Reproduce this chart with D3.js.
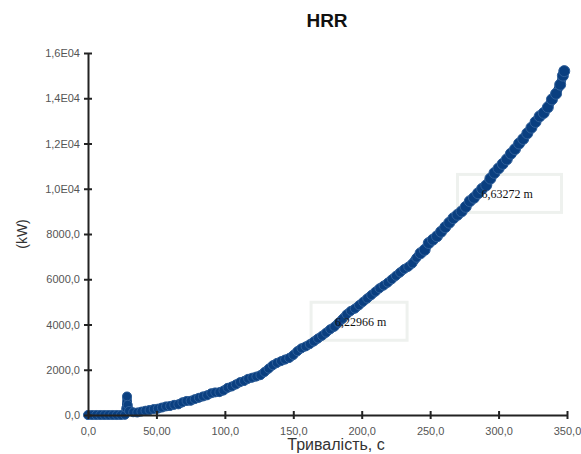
<!DOCTYPE html>
<html>
<head>
<meta charset="utf-8">
<script src="https://cdn.jsdelivr.net/npm/d3@7"></script>
<style>
  body { margin: 0; background: #fff; }
  text { font-family: "Liberation Sans", Arial, sans-serif; }
</style>
</head>
<body>
<div id="chart"></div>
<script>
// time (s) and heat release rate (kW)
var times = [0,3,6,9,12,15,18,21,24,27,28,28.5,29,30,33,36,39,42,45,48,51,54,57,60,63,66,69,72,75,78,81,84,87,90,93,96,99,
  102,105,108,111,114,117,120,123,126,129,132,135,138,141,144,147,150,153,156,159,162,165,168,171,174,177,180,183,186,189,192,195,198,
  201,204,207,210,213,216,219,222,225,228,231,234,237,240,243,246,249,252,255,258,261,264,267,270,273,276,279,282,285,288,291,294,297,
  300,303,306,309,312,315,318,321,324,327,330,333,336,339,342,345,347,348];
var hrr = [0,0,0,0,0,0,0,0,0,10,300,820,450,180,120,110,150,190,220,260,280,330,380,400,450,470,560,620,630,700,760,820,870,960,1000,1010,1080,
  1200,1260,1350,1450,1500,1600,1650,1700,1760,1900,2050,2200,2300,2380,2450,2520,2650,2820,2950,3030,3130,3250,3380,3500,3640,3790,3900,4080,4250,4450,4600,4700,4850,
  5000,5150,5300,5450,5600,5720,5850,6000,6150,6300,6450,6550,6700,6950,7150,7300,7600,7750,7900,8100,8300,8500,8700,8850,9000,9200,9450,9600,9800,10000,10150,10450,10700,
  10900,11100,11300,11550,11750,12000,12200,12450,12700,12950,13200,13350,13600,13950,14200,14600,15000,15200];

var xTicks = [0,50,100,150,200,250,300,350];
var xTickLabels = ["0,0","50,00","100,0","150,0","200,0","250,0","300,0","350,0"];
var yTicks = [0,2000,4000,6000,8000,10000,12000,14000,16000];
var yTickLabels = ["0,0","2000,0","4000,0","6000,0","8000,0","1,0E04","1,2E04","1,4E04","1,6E04"];

// distance markers shown as boxed labels
var noteTimes = [182, 289];
var noteValues = [4100, 9750];
var noteLabels = ["6,22966 m", "6,63272 m"];

var W = 581, H = 454;
var margin = {top: 53, right: 14, bottom: 39, left: 88};

var svg = d3.select("#chart").append("svg")
  .attr("width", W).attr("height", H);

var x = d3.scaleLinear().domain([0, 350]).range([margin.left, W - margin.right]);
var y = d3.scaleLinear().domain([0, 16000]).range([H - margin.bottom, margin.top]);

var data = times.map(function(t, i) { return {t: t, v: hrr[i]}; });

// title
svg.append("text")
  .attr("x", 327).attr("y", 27)
  .attr("text-anchor", "middle")
  .style("font-size", "19px").style("font-weight", "bold")
  .attr("fill", "#111")
  .text("HRR");

// axis labels
svg.append("text")
  .attr("x", 336).attr("y", 450)
  .attr("text-anchor", "middle")
  .style("font-size", "16px")
  .attr("fill", "#333")
  .text("Тривалість, с");

svg.append("text")
  .attr("transform", "translate(27,234) rotate(-90)")
  .attr("text-anchor", "middle")
  .style("font-size", "14px")
  .attr("fill", "#333")
  .text("(kW)");

// note boxes drawn under the curve
var noteG = svg.append("g");
noteTimes.forEach(function(t, i) {
  var cx = x(t), cy = y(noteValues[i]);
  noteG.append("rect")
    .attr("x", cx - 26).attr("y", cy - 20)
    .attr("width", i === 0 ? 96 : 104).attr("height", 38)
    .attr("fill", "none")
    .attr("stroke", "#eef1ee").attr("stroke-width", 3);
});

// the curve
var line = d3.line().x(function(d) { return x(d.t); }).y(function(d) { return y(d.v); });
svg.append("path")
  .datum(data)
  .attr("d", line)
  .attr("fill", "none")
  .attr("stroke", "#0a3f80")
  .attr("stroke-width", 9)
  .attr("stroke-linejoin", "round")
  .attr("stroke-linecap", "round");

svg.append("g").selectAll("circle")
  .data(data)
  .enter().append("circle")
    .attr("cx", function(d) { return x(d.t); })
    .attr("cy", function(d) { return y(d.v); })
    .attr("r", function(d) { return d.t > 240 ? 5.5 : 4.5; })
    .attr("fill", "#0a3f80")
    .attr("stroke", "#2f5f99")
    .attr("stroke-width", 1);

// note texts on top
noteTimes.forEach(function(t, i) {
  svg.append("text")
    .attr("x", x(t) - 2).attr("y", y(noteValues[i]) + 4)
    .style("font-family", "'Liberation Serif', 'Times New Roman', serif")
    .style("font-size", "12px")
    .attr("fill", "#111")
    .text(noteLabels[i]);
});

// axes
var xAxis = d3.axisBottom(x).tickValues(xTicks)
  .tickFormat(function(d, i) { return xTickLabels[i]; })
  .tickSizeInner(4).tickSizeOuter(0);
var yAxis = d3.axisLeft(y).tickValues(yTicks)
  .tickFormat(function(d, i) { return yTickLabels[i]; })
  .tickSizeInner(4).tickSizeOuter(0);

var gx = svg.append("g")
  .attr("transform", "translate(0," + y(0) + ")")
  .call(xAxis);
var gy = svg.append("g")
  .attr("transform", "translate(" + x(0) + ",0)")
  .call(yAxis);

[gx, gy].forEach(function(g) {
  g.select(".domain").attr("stroke", "#222").attr("stroke-width", 2);
  g.selectAll(".tick line").attr("stroke", "#222").attr("stroke-width", 2);
  g.selectAll(".tick text").attr("fill", "#555").style("font-size", "11px");
});
// ticks cross the axis line
gx.selectAll(".tick line").attr("y1", -4).attr("y2", 4);
gx.selectAll(".tick text").attr("y", 12);
gy.selectAll(".tick line").attr("x1", -4).attr("x2", 4);
gy.selectAll(".tick text").attr("x", -8);
</script>
</body>
</html>
